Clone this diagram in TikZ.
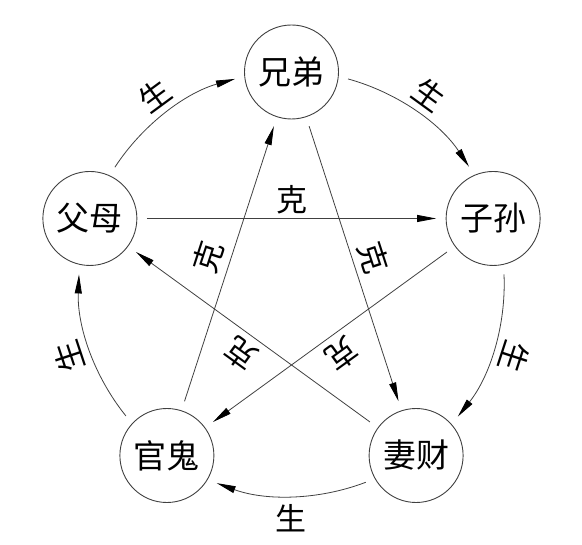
\documentclass[tikz,border=0pt]{standalone}
\usepackage{fontspec}
\newfontfamily\cjk{Noto Sans CJK SC}
\usetikzlibrary{arrows.meta,calc}
\begin{document}
\begin{tikzpicture}[x=1pt,y=1pt,
  yao/.style={circle, draw=black!75, line width=0.9pt, minimum size=94pt, inner sep=0pt, outer sep=10pt, font=\cjk\fontsize{33}{33}\selectfont},
  arr/.style={draw=black!75, line width=0.8pt, -{Triangle[length=19pt,width=7pt,black]}},
  lab/.style={font=\cjk\fontsize{31}{31}\selectfont, inner sep=0pt, text=black},
  sheng/.style={bend left=20.54, looseness=0.88},
  onpath/.style={lab, sloped, allow upside down, above=#1},
]
\useasboundingbox (0,0) rectangle (582,545);
\coordinate (C) at (291.5,261);
\node[yao] (xiong) at ($(C)+(90:212)$) {兄弟};
\node[yao] (zi)    at ($(C)+(18:212)$) {子孙};
\node[yao] (qi)    at ($(C)+(-54:212)$) {妻财};
\node[yao] (guan)  at ($(C)+(234:212)$) {官鬼};
\node[yao] (fu)    at ($(C)+(162:212)$) {父母};
% sheng (outer arcs)
\draw[arr] (fu.64.27) to[sheng] node[onpath=7pt] {生} (xiong.187.73);
\draw[arr] (xiong.-7.73) to[sheng] node[onpath=7pt] {生} (zi.115.73);
\draw[arr] (zi.-79.73) to[sheng] node[onpath=8pt] {生} (qi.43.73);
\draw[arr] (qi.208.27) to[sheng] node[lab, below=8pt] {生} (guan.331.73);
\draw[arr] (guan.136.27) to[sheng] node[onpath=8pt] {生} (fu.259.73);
% ke (star)
\draw[arr] (fu) -- node[onpath=4pt] {克} (zi);
\draw[arr] (zi) -- node[onpath=6pt] {克} (guan);
\draw[arr] (guan) -- node[onpath=7pt] {克} (xiong);
\draw[arr] (xiong) -- node[onpath=6pt] {克} (qi);
\draw[arr] (qi) -- node[onpath=6pt] {克} (fu);
\end{tikzpicture}
\end{document}
